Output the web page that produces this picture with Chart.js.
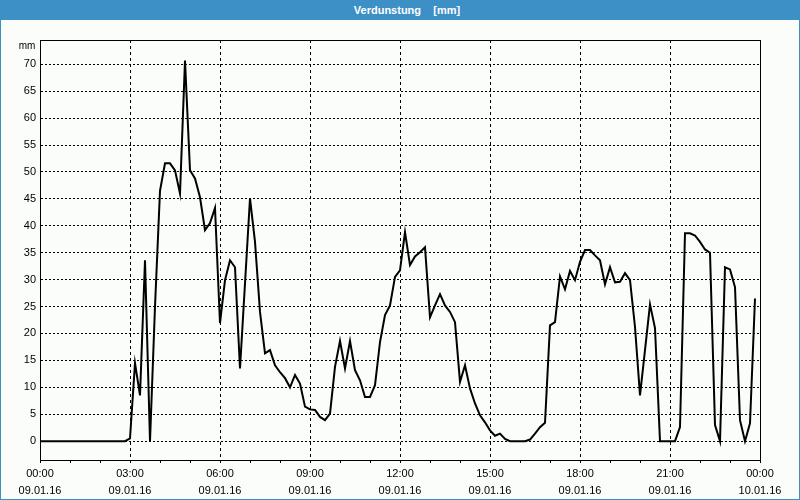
<!DOCTYPE html>
<html>
<head>
<meta charset="utf-8">
<script src="https://cdn.jsdelivr.net/npm/chart.js@4"></script>
<style>
  body { margin: 0; background: #fff; }
  #wrap { position: relative; width: 800px; height: 500px; background: #fbfdfb; }
  #titlebar {
    position: absolute; left: 0; top: 0; width: 800px; height: 20px;
    background: #3c90c6; color: #fff; font: bold 11px "Liberation Sans", sans-serif;
    text-align: center; line-height: 20px; white-space: pre; padding-left: 14px; box-sizing: border-box;
  }
  #frame {
    position: absolute; left: 0; top: 0; width: 800px; height: 500px; box-sizing: border-box;
    border: 1px solid #3c90c6; pointer-events: none;
  }
  canvas { position: absolute; left: 0; top: 0; }
</style>
</head>
<body>
<div id="wrap">
  <canvas id="myChart" width="800" height="500"></canvas>
  <div id="titlebar">Verdunstung    [mm]</div>
  <div id="frame"></div>
</div>
<script>
// evaporation in mm, one value every 10 minutes from 00:00 to 23:50
let verdunstung = [
  0, 0, 0, 0, 0, 0, 0, 0, 0, 0, 0, 0, 0, 0, 0, 0, 0, 0,
  0.5, 14.5, 8.5, 33.6, 0, 25, 46.5, 51.6, 51.6, 50.3, 46, 70.7,
  50.3, 48.8, 45.3, 39.2, 40.5, 43.3, 21.9, 29.9, 33.6, 32.3, 13.5, 29.3,
  45.1, 37, 24, 16.3, 16.9, 14.1, 12.8, 11.7, 10, 12.3, 10.7, 6.4,
  5.9, 5.8, 4.5, 3.9, 5.1, 13.8, 18.6, 13.5, 18.6, 13.2, 11.3, 8.2,
  8.2, 10.4, 18.4, 23.4, 25.2, 30.5, 31.7, 38.8, 32.7, 34.3, 35.1, 36,
  23, 25.2, 27.3, 25.2, 24, 22.1, 11, 14.1, 9.8, 7, 4.8, 3.5,
  2, 1, 1.4, 0.4, 0, 0, 0, 0, 0.3, 1.4, 2.6, 3.4,
  21.5, 22.1, 30.6, 28.2, 31.6, 29.9, 33.3, 35.5, 35.5, 34.5, 33.6, 29.1,
  32.3, 29.5, 29.6, 31.2, 29.9, 21.2, 8.5, 16.9, 25.4, 21, 0, 0,
  0, 0, 2.6, 38.6, 38.6, 38.2, 37, 35.6, 35, 3, 0, 32.3,
  31.9, 28.6, 3.9, 0, 3.3, 26.5
];
let stepMinutes = 10;

let timeLabels = ["00:00", "03:00", "06:00", "09:00", "12:00", "15:00", "18:00", "21:00", "00:00"];
let dateLabels = ["09.01.16", "09.01.16", "09.01.16", "09.01.16", "09.01.16", "09.01.16", "09.01.16", "09.01.16", "10.01.16"];
let yTicks = [0, 5, 10, 15, 20, 25, 30, 35, 40, 45, 50, 55, 60, 65, 70];
let unitLabel = "mm";

let points = [];
for (let i = 0; i < verdunstung.length; i++) {
  points.push({ x: i * stepMinutes / 60, y: verdunstung[i] });
}

let hours = [];
for (let h = 0; h <= 24; h++) {
  hours.push({ value: h });
}

const boxPlugin = {
  id: "box",
  beforeDatasetsDraw(chart) {
    const a = chart.chartArea;
    const ctx = chart.ctx;
    ctx.save();
    ctx.strokeStyle = "#000";
    ctx.lineWidth = 1;
    ctx.strokeRect(Math.round(a.left) + 0.5, Math.round(a.top) + 0.5, Math.round(a.right - a.left), Math.round(a.bottom - a.top));
    ctx.restore();
  },
  afterDraw(chart) {
    const ctx = chart.ctx;
    ctx.save();
    ctx.fillStyle = "#000";
    ctx.font = "10px 'Liberation Sans', sans-serif";
    ctx.textAlign = "center";
    ctx.textBaseline = "middle";
    ctx.fillText(unitLabel, 27, 46);
    ctx.restore();
  }
};

const font = { family: "'Liberation Sans', sans-serif", size: 11 };

const ctx = document.getElementById("myChart");
new Chart(ctx, {
  type: "line",
  data: {
    datasets: [
      {
        label: "Verdunstung",
        data: points,
        borderColor: "#000",
        borderWidth: 2,
        pointRadius: 0,
        tension: 0,
        fill: false,
      },
    ],
  },
  options: {
    responsive: false,
    animation: false,
    layout: { padding: { left: 0, top: 40, right: 40, bottom: 0 } },
    plugins: { legend: { display: false }, tooltip: { enabled: false } },
    scales: {
      x: {
        type: "linear",
        min: 0,
        max: 24,
        afterBuildTicks: (axis) => { axis.ticks = hours.map(t => ({ value: t.value })); },
        afterFit: (axis) => { axis.height = 40; },
        border: { display: true, color: "#000", width: 1, dash: [3, 3] },
        grid: {
          color: (c) => (c.tick && c.tick.value % 3 === 0 ? "#000" : "rgba(0,0,0,0)"),
          tickColor: "#000",
          tickLength: 3,
          drawTicks: true,
        },
        ticks: {
          autoSkip: false,
          maxRotation: 0,
          color: "#000",
          padding: 3,
          font: { family: font.family, size: 11, lineHeight: 1.5 },
          callback: (v) => {
            if (v % 3 !== 0) return "";
            let k = v / 3;
            return [timeLabels[k], dateLabels[k]];
          },
        },
      },
      y: {
        min: -3.5,
        max: 74.5,
        afterBuildTicks: (axis) => { axis.ticks = yTicks.map(v => ({ value: v })); },
        afterFit: (axis) => { axis.width = 40; },
        border: { display: true, color: "#000", width: 1, dash: [2, 2] },
        grid: { color: "#000", drawTicks: false },
        ticks: { color: "#000", padding: 4, font: font },
      },
    },
  },
  plugins: [boxPlugin],
});
</script>
</body>
</html>
